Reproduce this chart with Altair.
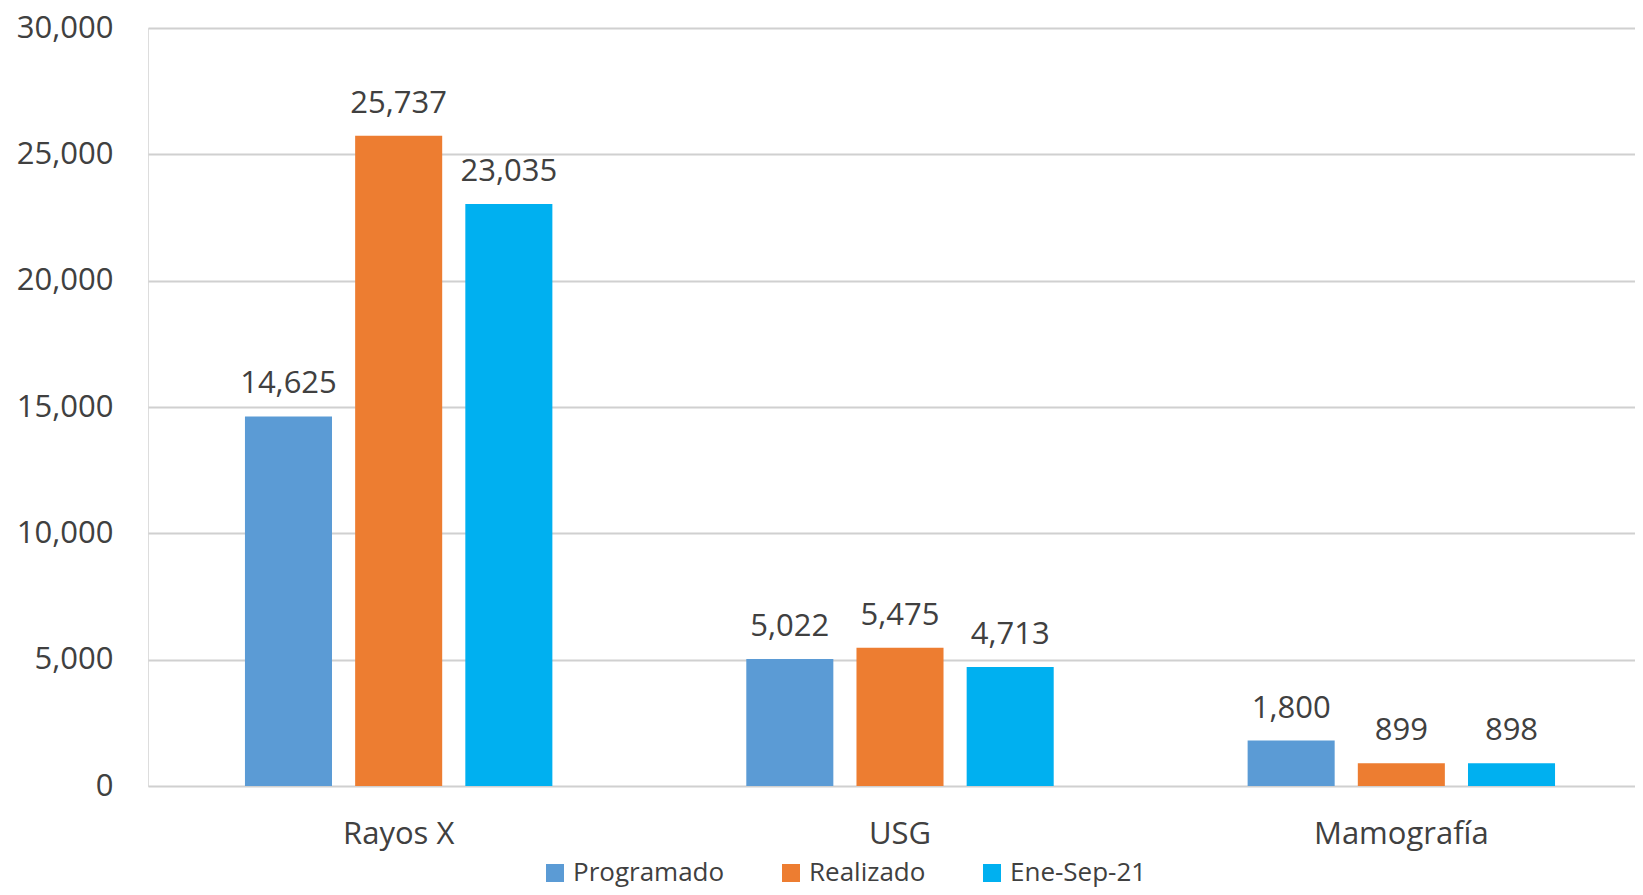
import altair as alt
import pandas as pd

categories = ["Rayos X", "USG", "Mamografía"]
series = ["Programado", "Realizado", "Ene-Sep-21"]
programado = [14625, 5022, 1800]
realizado = [25737, 5475, 899]
ene_sep_21 = [23035, 4713, 898]
colors = ["#5B9BD5", "#ED7D31", "#00B0F0"]
y_ticks = [0, 5000, 10000, 15000, 20000, 25000, 30000]

rows = []
for i, c in enumerate(categories):
    for s, vals in zip(series, [programado, realizado, ene_sep_21]):
        rows.append({"cat": c, "series": s, "value": vals[i]})
df = pd.DataFrame(rows)

FONT = "Open Sans"
TXT = "#404040"

x_enc = alt.X(
    "cat:N", sort=categories,
    scale=alt.Scale(paddingInner=0, paddingOuter=0),
    axis=alt.Axis(title=None, labelAngle=0, ticks=False, domain=False,
                  labelFontSize=31, labelColor=TXT, labelPadding=33, labelFont=FONT),
)
xoff_enc = alt.XOffset("series:N", sort=series,
                       scale=alt.Scale(paddingInner=0.21, paddingOuter=0.88))
y_enc = alt.Y(
    "value:Q",
    scale=alt.Scale(domain=[0, 30000], nice=False),
    axis=alt.Axis(title=None, values=y_ticks, labelExpr="format(datum.value, ',.0f')",
                  grid=True, gridColor="#d0d0d0", gridWidth=2, ticks=False, domain=False,
                  labelFontSize=31, labelColor=TXT, labelPadding=35, labelFont=FONT),
)

bars = alt.Chart(df).mark_bar().encode(
    x=x_enc, xOffset=xoff_enc, y=y_enc,
    color=alt.Color(
        "series:N", sort=series,
        scale=alt.Scale(domain=series, range=colors),
        legend=alt.Legend(
            title=None, orient="none", legendX=394, legendY=832,
            direction="horizontal", symbolType="square", symbolSize=324,
            symbolStrokeWidth=0, labelFontSize=26, labelColor=TXT, labelFont=FONT,
            labelOffset=5, columnPadding=53,
        ),
    ),
)

labels = alt.Chart(df).mark_text(
    baseline="alphabetic", dy=-23, fontSize=31, font=FONT, color=TXT
).encode(
    x=x_enc, xOffset=xoff_enc, y=y_enc,
    text=alt.Text("value:Q", format=",.0f"),
)

chart = alt.layer(bars, labels).properties(
    width=1504, height=758,
    autosize=alt.AutoSizeParams(type="none"),
    padding={"left": 140, "top": 20, "right": -17, "bottom": 101},
).configure_view(stroke=None).configure(font=FONT)

chart.save("out.html", embed_options={"renderer": "svg", "actions": False})
